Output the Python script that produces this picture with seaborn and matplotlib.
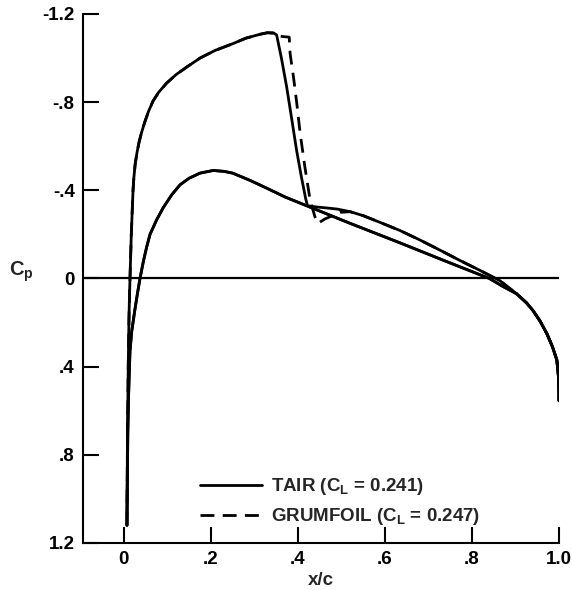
import matplotlib
matplotlib.use('Agg')

import matplotlib.pyplot as plt
import pandas as pd
import seaborn as sns

# TAIR, upper surface (leading edge -> trailing edge)
tair_upper_x = [0.007, 0.0075, 0.008, 0.009, 0.010, 0.011, 0.012, 0.013, 0.014, 0.0155, 0.017, 0.019,
                0.021, 0.023, 0.026, 0.030, 0.035, 0.041, 0.048, 0.057, 0.067, 0.080, 0.098, 0.12,
                0.145, 0.175, 0.21, 0.25, 0.28, 0.313, 0.33, 0.343, 0.351, 0.362, 0.374, 0.386,
                0.397, 0.408, 0.418, 0.422, 0.44, 0.466, 0.49, 0.52, 0.55, 0.588, 0.634, 0.68,
                0.73, 0.772, 0.82, 0.864, 0.903, 0.925, 0.94, 0.957, 0.972, 0.985, 0.995, 0.999,
                1.0]
tair_upper_cp = [1.12, 0.95, 0.78, 0.58, 0.40, 0.26, 0.15, 0.07, 0.0, -0.1, -0.2, -0.30,
                 -0.40, -0.46, -0.52, -0.57, -0.62, -0.665, -0.71, -0.76, -0.805, -0.845, -0.886, -0.925,
                 -0.96, -1.0, -1.035, -1.065, -1.09, -1.108, -1.115, -1.115, -1.105, -1.0, -0.87, -0.72,
                 -0.58, -0.46, -0.36, -0.33, -0.325, -0.32, -0.315, -0.303, -0.285, -0.255, -0.218, -0.175,
                 -0.125, -0.082, -0.035, 0.01, 0.07, 0.11, 0.145, 0.195, 0.25, 0.31, 0.37, 0.45,
                 0.555]

# TAIR, lower surface
tair_lower_x = [0.007, 0.008, 0.009, 0.0105, 0.012, 0.014, 0.018, 0.025, 0.031, 0.037, 0.045, 0.052,
                0.06, 0.075, 0.09, 0.11, 0.129, 0.15, 0.175, 0.205, 0.23, 0.25, 0.29, 0.328,
                0.37, 0.42, 0.52, 0.634, 0.735, 0.84, 0.87, 0.903, 0.925, 0.94, 0.957, 0.972,
                0.985, 0.995, 0.999, 1.0]
tair_lower_cp = [1.12, 0.90, 0.70, 0.55, 0.45, 0.33, 0.24, 0.145, 0.07, 0.0, -0.08, -0.14,
                 -0.2, -0.265, -0.32, -0.38, -0.425, -0.455, -0.478, -0.49, -0.486, -0.478, -0.445, -0.41,
                 -0.37, -0.33, -0.25, -0.162, -0.082, 0.0, 0.035, 0.07, 0.11, 0.145, 0.195, 0.25,
                 0.31, 0.37, 0.45, 0.555]

# GRUMFOIL, upper surface (differs from TAIR around the shock)
grum_upper_x = [0.007, 0.0075, 0.008, 0.009, 0.010, 0.011, 0.012, 0.013, 0.014, 0.0155, 0.017, 0.019,
                0.021, 0.023, 0.026, 0.030, 0.035, 0.041, 0.048, 0.057, 0.067, 0.080, 0.098, 0.12,
                0.145, 0.175, 0.21, 0.25, 0.28, 0.313, 0.33, 0.343, 0.355, 0.368, 0.38, 0.382,
                0.39, 0.397, 0.405, 0.416, 0.428, 0.439, 0.446, 0.462, 0.497, 0.52, 0.55, 0.588,
                0.634, 0.68, 0.73, 0.772, 0.82, 0.864, 0.903, 0.925, 0.94, 0.957, 0.972, 0.985,
                0.995, 0.999, 1.0]
grum_upper_cp = [1.12, 0.95, 0.78, 0.58, 0.40, 0.26, 0.15, 0.07, 0.0, -0.1, -0.2, -0.30,
                 -0.40, -0.46, -0.52, -0.57, -0.62, -0.665, -0.71, -0.76, -0.805, -0.845, -0.886, -0.925,
                 -0.96, -1.0, -1.035, -1.065, -1.09, -1.108, -1.115, -1.112, -1.10, -1.097, -1.095, -1.02,
                 -0.91, -0.80, -0.66, -0.505, -0.355, -0.28, -0.25, -0.27, -0.30, -0.303, -0.285, -0.255,
                 -0.218, -0.175, -0.125, -0.082, -0.035, 0.01, 0.07, 0.11, 0.145, 0.195, 0.25, 0.31,
                 0.37, 0.45, 0.555]

# GRUMFOIL, lower surface (lies on top of TAIR in the picture)
grum_lower_x = tair_lower_x
grum_lower_cp = tair_lower_cp

x_ticks = [0, 0.2, 0.4, 0.6, 0.8, 1.0]
x_tick_labels = ['0', '.2', '.4', '.6', '.8', '1.0']
y_ticks = [-1.2, -0.8, -0.4, 0, 0.4, 0.8, 1.2]
y_tick_labels = ['-1.2', '-.8', '-.4', '0', '.4', '.8', '1.2']

tair_label = r'TAIR ($\mathregular{C_L}$ = 0.241)'
grum_label = r'GRUMFOIL ($\mathregular{C_L}$ = 0.247)'


def make_df(x, cp):
    return pd.DataFrame({'x': x, 'cp': cp})


if __name__ == "__main__":
    sns.set_style('ticks')
    plt.rcParams['font.family'] = ['Liberation Sans', 'DejaVu Sans']
    plt.rcParams['font.weight'] = 'bold'
    plt.rcParams['mathtext.default'] = 'regular'
    fs = 13.5

    fig = plt.figure(figsize=(5.72, 5.90), dpi=100)
    ax = fig.add_axes([0.1451, 0.0797, 0.8322, 0.8966])

    lw = 2.0
    sns.lineplot(data=make_df(tair_upper_x, tair_upper_cp), x='x', y='cp', sort=False, estimator=None,
                 color='black', linewidth=lw, ax=ax, label=tair_label)
    sns.lineplot(data=make_df(tair_lower_x, tair_lower_cp), x='x', y='cp', sort=False, estimator=None,
                 color='black', linewidth=lw, ax=ax)
    sns.lineplot(data=make_df(grum_lower_x, grum_lower_cp), x='x', y='cp', sort=False, estimator=None,
                 color='black', linewidth=lw, ax=ax)
    sns.lineplot(data=make_df(grum_upper_x, grum_upper_cp), x='x', y='cp', sort=False, estimator=None,
                 color='black', linewidth=lw, ax=ax, label=grum_label)
    ax.lines[-1].set_dashes((5, 3))
    for ln in ax.lines:
        ln.set_solid_joinstyle('round')

    ax.axhline(0, xmin=0, xmax=1, color='black', linewidth=1.6, zorder=0)

    ax.set_xlim(-0.094, 1.0)
    ax.set_ylim(1.2, -1.2)
    ax.set_xticks(x_ticks)
    ax.set_xticklabels(x_tick_labels)
    ax.set_yticks(y_ticks)
    ax.set_yticklabels(y_tick_labels)
    ax.tick_params(direction='in', length=11.5, width=1.5, labelsize=fs, pad=6, colors='black')

    sns.despine(ax=ax)
    for side in ['left', 'bottom']:
        ax.spines[side].set_linewidth(1.5)
        ax.spines[side].set_color('black')

    ax.set_xlabel('x/c', fontsize=fs, fontweight='bold', labelpad=3)
    ax.set_ylabel(r'$\mathregular{C_p}$', fontsize=fs + 1, fontweight='bold', rotation=0, labelpad=0)
    ax.yaxis.set_label_coords(-0.13, 0.49)

    ax.legend(loc='upper left', bbox_to_anchor=(0.246, 0.126), frameon=False, fontsize=fs,
              handlelength=3.3, handletextpad=0.5, labelspacing=0.48, borderpad=0, borderaxespad=0)

    plt.savefig('out.png', dpi=100)
